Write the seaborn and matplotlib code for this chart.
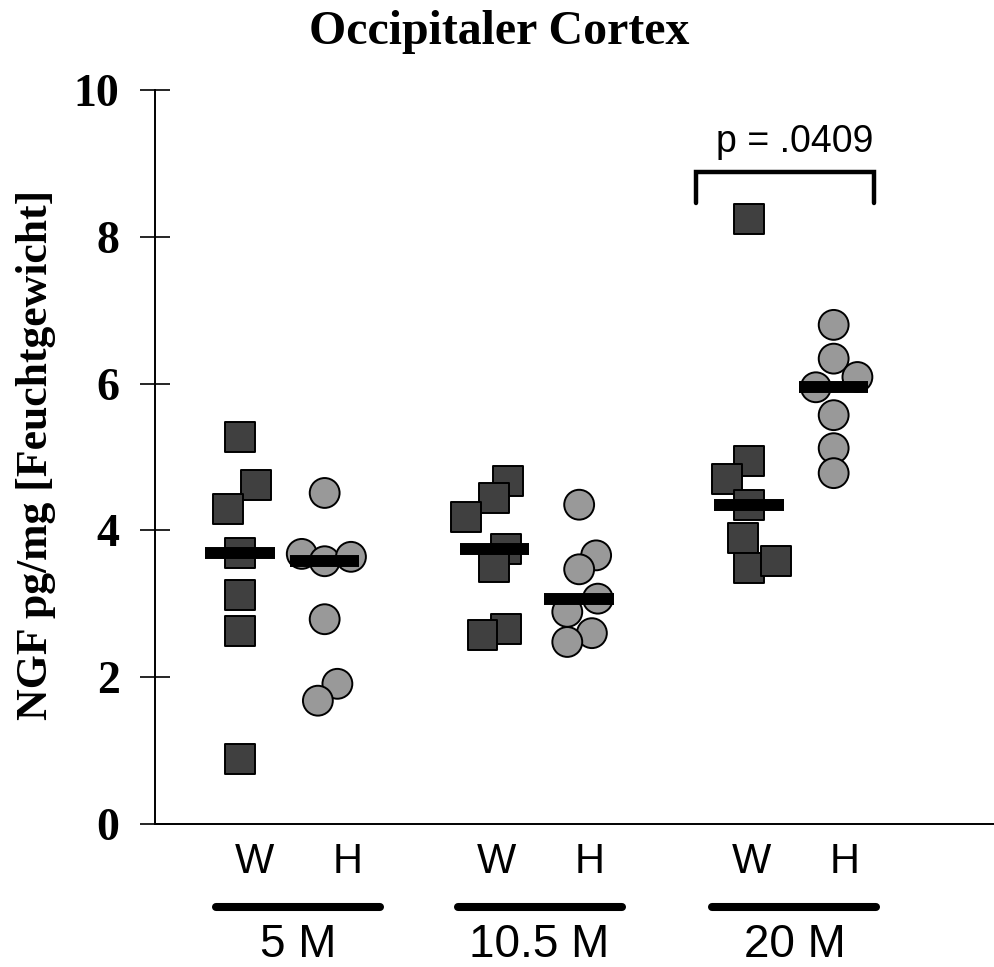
import numpy as np
import pandas as pd
import matplotlib
matplotlib.use("Agg")
import matplotlib.pyplot as plt
import seaborn as sns

# ---- data ----
ages = ["5 M", "10.5 M", "20 M"]
groups = ["W", "H"]
w_5 = [5.27, 4.62, 4.29, 3.69, 3.12, 2.63, 0.89]
h_5 = [4.51, 3.68, 3.58, 3.64, 2.79, 1.91, 1.68]
w_105 = [4.67, 4.44, 4.18, 3.75, 3.50, 2.66, 2.57]
h_105 = [4.35, 3.66, 3.47, 3.07, 2.89, 2.60, 2.48]
w_20 = [8.24, 4.95, 4.70, 4.35, 3.90, 3.49, 3.58]
h_20 = [6.80, 6.34, 6.09, 5.95, 5.57, 5.12, 4.78]
# horizontal jitter offsets (category units)
off_w_5 = [0.0, 0.19, -0.14, 0.0, 0.0, 0.0, 0.0]
off_h_5 = [0.0, -0.27, 0.0, 0.31, 0.0, 0.15, -0.08]
off_w_105 = [0.16, 0.0, -0.33, 0.14, 0.0, 0.14, -0.14]
off_h_105 = [0.0, 0.2, 0.0, 0.22, -0.14, 0.15, -0.14]
off_w_20 = [0.0, 0.0, -0.26, 0.0, -0.07, 0.0, 0.32]
off_h_20 = [0.0, 0.0, 0.28, -0.21, 0.0, 0.0, 0.0]
p_text = "p = .0409"
title = "Occipitaler Cortex"
ylabel = "NGF pg/mg [Feuchtgewicht]"
yticks = [0, 2, 4, 6, 8, 10]

series = [
    ("5 M", "W", w_5, off_w_5), ("5 M", "H", h_5, off_h_5),
    ("10.5 M", "W", w_105, off_w_105), ("10.5 M", "H", h_105, off_h_105),
    ("20 M", "W", w_20, off_w_20), ("20 M", "H", h_20, off_h_20),
]
base_pos = {("5 M", "W"): 0, ("5 M", "H"): 1, ("10.5 M", "W"): 3,
            ("10.5 M", "H"): 4, ("20 M", "W"): 6, ("20 M", "H"): 7}
rows = []
for age, g, vals, offs in series:
    for v, o in zip(vals, offs):
        rows.append(dict(age=age, group=g, value=v, pos=base_pos[(age, g)],
                         x=base_pos[(age, g)] + o))
df = pd.DataFrame(rows)

# ---- figure ----
sns.set_style("white")
plt.rcParams["font.family"] = ["Liberation Serif", "DejaVu Serif"]
plt.rcParams["text.color"] = "black"
plt.rcParams["axes.labelcolor"] = "black"
plt.rcParams["ytick.color"] = "black"
plt.rcParams["xtick.color"] = "black"
W, H = 994, 967
fig = plt.figure(figsize=(W / 100, H / 100), dpi=100)
ax_l, ax_r, ax_b, ax_t = 155, 994, 824, 90
ax = fig.add_axes([ax_l / W, 1 - ax_b / H, (ax_r - ax_l) / W, (ax_b - ax_t) / H])

sns.scatterplot(data=df, x="x", y="value", hue="group", style="group",
                markers={"W": "s", "H": "o"},
                palette={"W": "#404040", "H": "#999999"},
                s=21.5 ** 2, edgecolor="black", linewidth=1.4,
                legend=False, ax=ax, zorder=3)

med = df.groupby(["age", "group"]).agg(value=("value", "median"), pos=("pos", "first")).reset_index()
ax.hlines(med["value"], med["pos"] - 0.41, med["pos"] + 0.41, colors="black",
          linewidth=8.6, zorder=5)

ax.set_xlim(-1.0, 8.89)
ax.set_ylim(0, 10)
ax.set_yticks(yticks)
ax.set_yticklabels([str(t) for t in yticks], fontsize=33, fontweight="bold",
                   family="Liberation Serif", color="black")
ax.set_xticks([])
ax.set_xlabel("")
ax.tick_params(axis="y", direction="inout", length=21, width=1.2, pad=15, left=True,
               color="black")
for s in ["top", "right"]:
    ax.spines[s].set_visible(False)
for s in ["left", "bottom"]:
    ax.spines[s].set_color("black")
    ax.spines[s].set_linewidth(1.4)
ax.spines["bottom"].set_zorder(1)

ax.set_ylabel(ylabel, fontsize=31.5, fontweight="bold", family="Liberation Serif",
              color="black")
ax.yaxis.set_label_coords((56 - ax_l) / (ax_r - ax_l), (ax_b - 455) / (ax_b - ax_t))

fig.text(499 / W, 1 - 32 / H, title, ha="center", va="center", fontsize=34.5,
         fontweight="bold", family="Liberation Serif", color="black")

# bracket with p value
bx0, bx1, by_top, by_end = 5.38, 7.48, 8.88, 8.46
ax.plot([bx0, bx0, bx1, bx1], [by_end, by_top, by_top, by_end], color="black",
        lw=3.2, solid_capstyle="round", solid_joinstyle="miter", clip_on=False, zorder=4)
ax.text(6.54, 9.29, p_text, ha="center", va="center", fontsize=27,
        family="Liberation Sans", color="black")

# category labels below axis
tr = ax.get_xaxis_transform()
def ay(ypix):
    return (ax_b - ypix) / (ax_b - ax_t)

wh_x = [0.177, 1.27, 3.03, 4.12, 6.03, 7.13]
wh_txt = ["W", "H", "W", "H", "W", "H"]
for x, t in zip(wh_x, wh_txt):
    ax.text(x, ay(862), t, transform=tr, ha="center", va="center", fontsize=30,
            family="Liberation Sans", clip_on=False, color="black")
line_x = [(-0.283, 1.65), (2.57, 4.50), (5.57, 7.50)]
for x0, x1 in line_x:
    ax.plot([x0, x1], [ay(907), ay(907)], transform=tr, color="black", lw=5.8,
            solid_capstyle="round", clip_on=False)
age_x = [0.683, 3.53, 6.54]
for x, t in zip(age_x, ages):
    ax.text(x, ay(945), t, transform=tr, ha="center", va="center", fontsize=33,
            family="Liberation Sans", clip_on=False, color="black")

fig.savefig("out.png", dpi=100, facecolor="white")
